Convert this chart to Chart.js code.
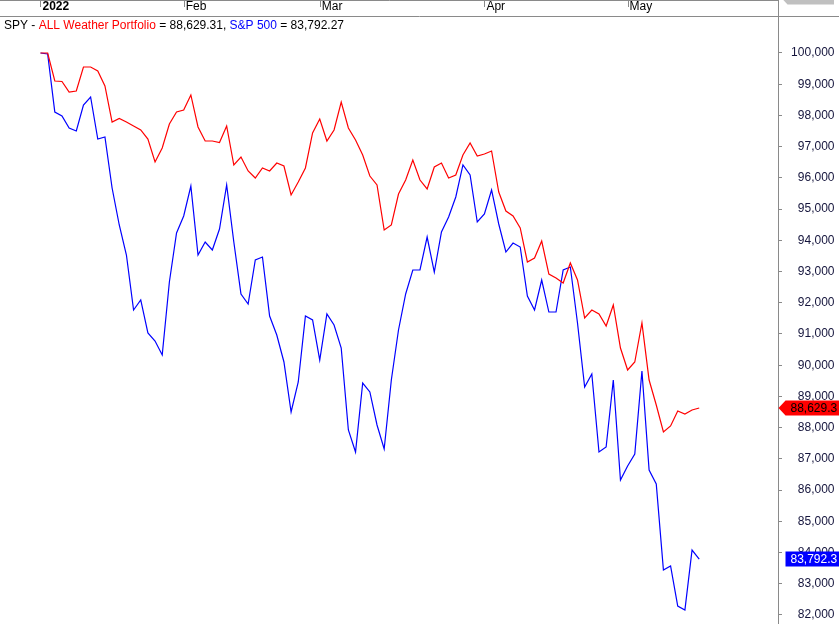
<!DOCTYPE html>
<html>
<head>
<meta charset="utf-8">
<script src="https://cdn.jsdelivr.net/npm/chart.js@4.4.1/dist/chart.umd.min.js"></script>
<style>
  html, body { margin: 0; padding: 0; background: #fff; overflow: hidden; }
  #wrap { width: 839px; height: 624px; }
</style>
</head>
<body>
<div id="wrap"><canvas id="chart" width="839" height="624"></canvas></div>
<script>
// month boundaries (trading-day index) and their labels on the top axis
var monthTicks = [0, 20, 39, 62, 82];
var monthLabels = ['2022', 'Feb', 'Mar', 'Apr', 'May'];
var yTicks = [82000, 83000, 84000, 85000, 86000, 87000, 88000, 89000, 90000, 91000,
  92000, 93000, 94000, 95000, 96000, 97000, 98000, 99000, 100000];

var seriesNames = ['ALL Weather Portfolio', 'S&P 500'];
var seriesColors = ['#ff0000', '#0000ff'];

// daily equity, Jan 3 .. May 16 2022
var allWeather = [
  100000, 100000, 99103, 99087, 98751, 98783, 99552, 99552, 99423, 98943,
  97790, 97902, 97790, 97662, 97534, 97245, 96509, 96957, 97726, 98110,
  98174, 98655, 97630, 97181, 97181, 97133, 97662, 96413, 96669, 96220,
  95996, 96317, 96220, 96477, 96381, 95452, 95868, 96317, 97438, 97886,
  97181, 97534, 98431, 97598, 97213, 96733, 96060, 95772, 94331, 94491,
  95484, 95932, 96573, 95932, 95644, 96349, 96477, 95996, 96092, 96733,
  97117, 96701, 96765, 96861, 95548, 94939, 94779, 94395, 93306, 93434,
  93978, 92921, 92793, 92633, 93274, 92729, 91512, 91768, 91640, 91256,
  91928, 90551, 89846, 90103, 91352, 89526, 88725, 87861, 88053, 88533,
  88437, 88565, 88629.31
];
var sp500 = [
  100000, 99968, 98110, 97982, 97598, 97502, 98334, 98591, 97245, 97309,
  95676, 94491, 93530, 91768, 92089, 91032, 90775, 90327, 92665, 94235,
  94779, 95740, 93530, 93946, 93690, 94363, 95772, 93946, 92281, 91960,
  93370, 93466, 91576, 90968, 90103, 88501, 89462, 91576, 91448, 90167,
  91640, 91288, 90551, 87925, 87220, 89430, 89142, 88085, 87316, 89526,
  91128, 92281, 93050, 93050, 94106, 92985, 94267, 94747, 95388, 96413,
  96092, 94587, 94843, 95612, 94523, 93626, 93914, 93786, 92217, 91768,
  92729, 91704, 91704, 93050, 93146, 91352, 89302, 89718, 87220, 87380,
  89526, 86323, 86772, 87156, 89814, 86643, 86195, 83440, 83569, 82287,
  82159, 84081, 83792.27
];

var FONT = "'Liberation Sans', Arial, sans-serif";
var GRAY = '#8a8a8a';

function toPoints(arr) {
  return arr.map(function (v, i) { return { x: i, y: v }; });
}
function fmt(v, d) {
  return v.toLocaleString('en-US', { minimumFractionDigits: d, maximumFractionDigits: d });
}

var framePlugin = {
  id: 'frame',
  afterDraw: function (chart) {
    var ctx = chart.ctx;
    var xs = chart.scales.x, ys = chart.scales.y;
    var area = chart.chartArea;
    var W = chart.width, H = chart.height;
    var edge = Math.round(area.right) + 0.5;

    ctx.save();
    ctx.strokeStyle = GRAY;
    ctx.lineWidth = 1;
    ctx.beginPath();
    ctx.moveTo(0, 0.5); ctx.lineTo(edge, 0.5);
    ctx.moveTo(0, Math.round(area.top) - 0.5); ctx.lineTo(W, Math.round(area.top) - 0.5);
    ctx.moveTo(edge, 0); ctx.lineTo(edge, H);
    // month tick marks along the top edge
    monthTicks.forEach(function (t) {
      var px = Math.round(xs.getPixelForValue(t)) + 0.5;
      ctx.moveTo(px, 1); ctx.lineTo(px, 7);
    });
    ctx.stroke();

    // title line with coloured names
    ctx.font = '12px ' + FONT;
    ctx.textBaseline = 'middle';
    ctx.textAlign = 'left';
    var parts = [
      ['SPY - ', '#000'],
      [seriesNames[0], seriesColors[0]],
      [' = ' + fmt(allWeather[allWeather.length - 1], 2) + ', ', '#000'],
      [seriesNames[1], seriesColors[1]],
      [' = ' + fmt(sp500[sp500.length - 1], 2), '#000']
    ];
    var tx = 4;
    parts.forEach(function (p) {
      ctx.fillStyle = p[1];
      ctx.fillText(p[0], tx, 26);
      tx += ctx.measureText(p[0]).width;
    });

    // last-value tags on the price axis
    var bodyX = edge + 7;
    var redY = Math.round(ys.getPixelForValue(allWeather[allWeather.length - 1]));
    ctx.fillStyle = seriesColors[0];
    ctx.beginPath();
    ctx.moveTo(edge, redY);
    ctx.lineTo(bodyX, redY - 7.5);
    ctx.lineTo(W, redY - 7.5);
    ctx.lineTo(W, redY + 7.5);
    ctx.lineTo(bodyX, redY + 7.5);
    ctx.closePath();
    ctx.fill();
    ctx.fillStyle = '#000';
    ctx.fillText(fmt(allWeather[allWeather.length - 1], 1), bodyX + 5, redY + 0.5);

    var blueY = Math.round(ys.getPixelForValue(sp500[sp500.length - 1]));
    ctx.fillStyle = seriesColors[1];
    ctx.fillRect(bodyX, blueY - 7.5, W - bodyX, 15);
    ctx.fillStyle = '#fff';
    ctx.fillText(fmt(sp500[sp500.length - 1], 1), bodyX + 5, blueY + 0.5);

    // grey tag cut off at the top
    ctx.fillStyle = '#c0c0c0';
    ctx.beginPath();
    ctx.moveTo(edge + 2, -3);
    ctx.lineTo(bodyX + 2, -10.5);
    ctx.lineTo(W - 5, -10.5);
    ctx.lineTo(W - 5, 4.5);
    ctx.lineTo(bodyX + 2, 4.5);
    ctx.closePath();
    ctx.fill();
    ctx.fillStyle = '#333';
    ctx.fillText('100.000', bodyX + 4, -3);
    ctx.restore();
  }
};

new Chart(document.getElementById('chart'), {
  type: 'line',
  data: {
    datasets: [
      { label: seriesNames[0], data: toPoints(allWeather), borderColor: seriesColors[0],
        borderWidth: 1.2, pointRadius: 0, tension: 0, fill: false },
      { label: seriesNames[1], data: toPoints(sp500), borderColor: seriesColors[1],
        borderWidth: 1.2, pointRadius: 0, tension: 0, fill: false }
    ]
  },
  options: {
    responsive: false,
    animation: false,
    events: [],
    layout: { padding: { top: 0, left: 0, bottom: 0, right: 4.5 } },
    plugins: { legend: { display: false }, tooltip: { enabled: false } },
    scales: {
      x: {
        type: 'linear',
        position: 'top',
        min: -5.656,
        max: 103.003,
        grid: { display: false, drawTicks: false, tickLength: 0 },
        border: { display: false },
        afterBuildTicks: function (scale) {
          scale.ticks = monthTicks.map(function (t) { return { value: t }; });
        },
        afterFit: function (scale) {
          scale.height = 17;
          scale.paddingLeft = 0; scale.paddingRight = 0;
        },
        ticks: {
          autoSkip: false,
          maxRotation: 0,
          minRotation: 0,
          align: 'start',
          labelOffset: 2,
          padding: 3,
          color: '#000',
          font: function (c) {
            return { family: FONT, size: 12, weight: (c.tick && c.tick.value === 0) ? 'bold' : 'normal' };
          },
          callback: function (v) { return monthLabels[monthTicks.indexOf(v)]; }
        }
      },
      y: {
        type: 'linear',
        position: 'right',
        min: 81711,
        max: 101153,
        border: { display: false },
        grid: { display: true, drawOnChartArea: false, drawTicks: true, tickLength: 4, color: GRAY },
        afterBuildTicks: function (scale) {
          scale.ticks = yTicks.map(function (t) { return { value: t }; });
        },
        afterFit: function (scale) {
          scale.width = 56.5;
          scale.paddingTop = 0; scale.paddingBottom = 0;
        },
        ticks: {
          crossAlign: 'far',
          padding: 4,
          color: '#14143c',
          font: { family: FONT, size: 12 },
          callback: function (v) { return fmt(v, 0); }
        }
      }
    }
  },
  plugins: [framePlugin]
});
</script>
</body>
</html>
